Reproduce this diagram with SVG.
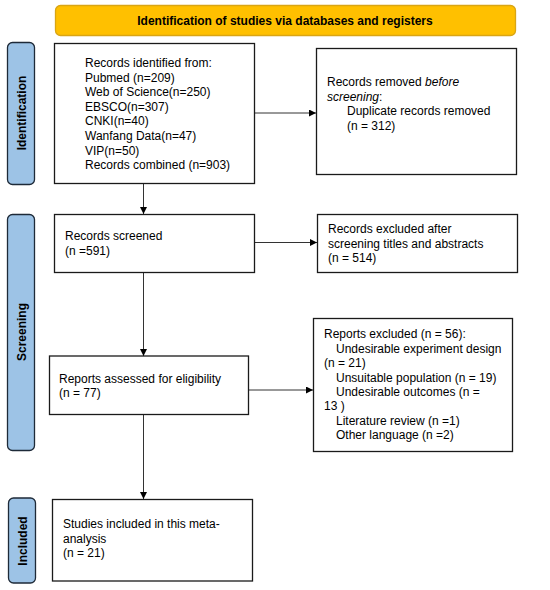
<svg xmlns="http://www.w3.org/2000/svg" width="550" height="590" viewBox="0 0 550 590">
<defs>
<style>
.t{font-family:"Liberation Sans",Arial,sans-serif;font-size:12px;fill:#000}
.b{font-family:"Liberation Sans",Arial,sans-serif;font-size:12px;font-weight:bold;fill:#000}
.box{fill:#fff;stroke:#1a1a1a;stroke-width:1.3}
.side{fill:#9DC3E6;stroke:#1e2a38;stroke-width:1.3}
.hdr{fill:#FFC000;stroke:#D9A514;stroke-width:1.3}
.c{stroke:#333;stroke-width:1;fill:none}
</style>
<marker id="ah" markerWidth="8" markerHeight="8" refX="7" refY="3.5" orient="auto" markerUnits="userSpaceOnUse">
<path d="M0,0 L7,3.5 L0,7 Z" fill="#000"/>
</marker>
</defs>
<rect width="550" height="590" fill="#fff"/>
<g id="header">
<rect class="hdr" x="55.5" y="5.5" width="460" height="30" rx="5"/>
<text class="b" x="285" y="25" text-anchor="middle">Identification of studies via databases and registers</text>
</g>
<g id="side-identification">
<rect class="side" x="7.5" y="42.5" width="27" height="142" rx="5"/>
<text class="b" transform="translate(25.5,113) rotate(-90)" text-anchor="middle">Identification</text>
</g>
<g id="side-screening">
<rect class="side" x="7.5" y="214.5" width="27" height="236" rx="5"/>
<text class="b" transform="translate(25.5,332) rotate(-90)" text-anchor="middle">Screening</text>
</g>
<g id="side-included">
<rect class="side" x="8.5" y="498" width="27" height="85" rx="5"/>
<text class="b" transform="translate(26.5,541) rotate(-90)" text-anchor="middle">Included</text>
</g>
<g id="connectors">
<line class="c" x1="254.5" y1="113" x2="316" y2="113" marker-end="url(#ah)"/>
<line class="c" x1="143.5" y1="183" x2="143.5" y2="214" marker-end="url(#ah)"/>
<line class="c" x1="254.5" y1="242.5" x2="317" y2="242.5" marker-end="url(#ah)"/>
<line class="c" x1="143.5" y1="272.5" x2="143.5" y2="356" marker-end="url(#ah)"/>
<line class="c" x1="248.5" y1="390" x2="313" y2="390" marker-end="url(#ah)"/>
<line class="c" x1="143.5" y1="414.5" x2="143.5" y2="499" marker-end="url(#ah)"/>
</g>
<g id="records-identified">
<rect class="box" x="54.5" y="43.5" width="200" height="140"/>
<text class="t" x="85" y="67">Records identified from:</text>
<text class="t" x="85" y="81.6">Pubmed (n=209)</text>
<text class="t" x="85" y="96.2">Web of Science(n=250)</text>
<text class="t" x="85" y="110.8">EBSCO(n=307)</text>
<text class="t" x="85" y="125.4">CNKI(n=40)</text>
<text class="t" x="85" y="140">Wanfang Data(n=47)</text>
<text class="t" x="85" y="154.6">VIP(n=50)</text>
<text class="t" x="85" y="169.2">Records combined (n=903)</text>
</g>
<g id="records-removed">
<rect class="box" x="316.5" y="48.5" width="200" height="126"/>
<text class="t" x="327" y="86">Records removed <tspan font-style="italic">before</tspan></text>
<text class="t" x="327" y="100.6"><tspan font-style="italic">screening</tspan>:</text>
<text class="t" x="347" y="115.2">Duplicate records removed</text>
<text class="t" x="347" y="129.8">(n = 312)</text>
</g>
<g id="records-screened">
<rect class="box" x="54.5" y="214.5" width="200" height="58"/>
<text class="t" x="65" y="240">Records screened</text>
<text class="t" x="65" y="255">(n =591)</text>
</g>
<g id="records-excluded">
<rect class="box" x="317.5" y="214.5" width="200" height="58"/>
<text class="t" x="328" y="232.8">Records excluded after</text>
<text class="t" x="328" y="247.6">screening titles and abstracts</text>
<text class="t" x="328" y="262.4">(n = 514)</text>
</g>
<g id="reports-assessed">
<rect class="box" x="49.5" y="356" width="199" height="58.5"/>
<text class="t" x="59" y="382.7">Reports assessed for eligibility</text>
<text class="t" x="59" y="397.3">(n = 77)</text>
</g>
<g id="reports-excluded">
<rect class="box" x="313.5" y="318.5" width="199" height="133"/>
<text class="t" x="324" y="338.3">Reports excluded (n = 56):</text>
<text class="t" x="336" y="352.7">Undesirable experiment design</text>
<text class="t" x="324" y="367.1">(n = 21)</text>
<text class="t" x="336" y="381.5">Unsuitable population (n = 19)</text>
<text class="t" x="336" y="395.9">Undesirable outcomes (n =</text>
<text class="t" x="324" y="410.3">13 )</text>
<text class="t" x="336" y="424.7">Literature review (n =1)</text>
<text class="t" x="336" y="439.1">Other language (n =2)</text>
</g>
<g id="studies-included">
<rect class="box" x="52.5" y="499.5" width="200" height="81.5"/>
<text class="t" x="63" y="528">Studies included in this meta-</text>
<text class="t" x="63" y="542.7">analysis</text>
<text class="t" x="63" y="557.4">(n = 21)</text>
</g>
</svg>
